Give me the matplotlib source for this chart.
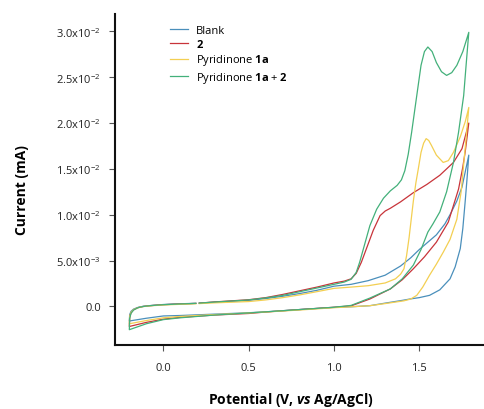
import matplotlib
matplotlib.use("Agg")
import matplotlib.pyplot as plt
import numpy as np

plt.rcParams['font.family'] = ['Open Sans', 'DejaVu Sans']
plt.rcParams['mathtext.fontset'] = 'custom'
plt.rcParams['mathtext.rm'] = 'Open Sans'
plt.rcParams['mathtext.bf'] = 'Open Sans:bold'
plt.rcParams['mathtext.it'] = 'Open Sans:italic'
plt.rcParams['mathtext.bfit'] = 'Open Sans:italic:bold'

# ---- data (potential in V, current in units of 1e-3 mA) ----
labels = ["Blank", r"$\mathbf{2}$", r"Pyridinone $\mathbf{1a}$", r"Pyridinone $\mathbf{1a}$ + $\mathbf{2}$"]
colors = ["#4a8fbb", "#c8343a", "#f3cf52", "#43b07a"]

blank_v = [0.21, 0.3, 0.4, 0.5, 0.6, 0.7, 0.8, 0.9, 1.0, 1.1, 1.2, 1.3, 1.39, 1.45, 1.5, 1.55, 1.6, 1.65, 1.68, 1.72, 1.75, 1.79,
           1.78, 1.77, 1.755, 1.74, 1.71, 1.68, 1.62, 1.56, 1.5, 1.445, 1.4, 1.3, 1.21, 1.1, 1.0, 0.8, 0.6, 0.5, 0.3, 0.1, 0.0, -0.1, -0.2,
           -0.198, -0.19, -0.175, -0.15, -0.12, -0.08, 0.0, 0.1, 0.19]
blank_i = [0.35, 0.45, 0.55, 0.65, 0.85, 1.1, 1.4, 1.75, 2.2, 2.4, 2.8, 3.4, 4.4, 5.3, 6.2, 7.0, 7.8, 9.0, 10.0, 11.5, 13.0, 16.5,
           14.0, 11.7, 8.5, 6.3, 4.3, 3.0, 1.8, 1.2, 0.95, 0.8, 0.65, 0.35, 0.07, -0.05, -0.12, -0.35, -0.6, -0.7, -0.85, -1.0, -1.05, -1.3, -1.6,
           -0.9, -0.55, -0.3, -0.12, 0.0, 0.08, 0.2, 0.28, 0.33]

red_v = [0.21, 0.3, 0.4, 0.5, 0.6, 0.7, 0.8, 0.9, 1.0, 1.06, 1.1, 1.13, 1.16, 1.19, 1.23, 1.27, 1.3, 1.33, 1.39, 1.465, 1.544, 1.62, 1.70, 1.75, 1.79,
         1.77, 1.755, 1.73, 1.70, 1.67, 1.6, 1.53, 1.465, 1.4, 1.33, 1.21, 1.1, 1.0, 0.8, 0.6, 0.5, 0.3, 0.1, 0.0, -0.1, -0.2,
         -0.198, -0.19, -0.175, -0.15, -0.12, -0.08, 0.0, 0.1, 0.19]
red_i = [0.35, 0.48, 0.6, 0.72, 0.95, 1.3, 1.7, 2.1, 2.55, 2.75, 3.0, 3.6, 4.8, 6.3, 8.3, 9.9, 10.4, 10.7, 11.4, 12.4, 13.3, 14.3, 15.7, 17.2, 20.0,
         17.0, 15.2, 12.8, 11.0, 9.2, 7.0, 5.4, 4.1, 2.9, 1.9, 0.8, 0.05, -0.1, -0.35, -0.62, -0.78, -0.95, -1.2, -1.4, -1.75, -2.2,
         -1.2, -0.7, -0.38, -0.15, -0.02, 0.07, 0.18, 0.26, 0.32]

yellow_v = [0.21, 0.3, 0.4, 0.5, 0.6, 0.7, 0.8, 0.9, 1.0, 1.1, 1.2, 1.3, 1.36, 1.39, 1.41, 1.425, 1.44, 1.465, 1.48, 1.494, 1.51, 1.525, 1.54, 1.555, 1.57, 1.6, 1.64, 1.67, 1.70, 1.74, 1.77, 1.79,
            1.775, 1.76, 1.745, 1.72, 1.68, 1.64, 1.6, 1.56, 1.52, 1.485, 1.45, 1.41, 1.3, 1.21, 1.1, 1.0, 0.8, 0.6, 0.5, 0.3, 0.1, 0.0, -0.1, -0.2,
            -0.198, -0.19, -0.175, -0.15, -0.12, -0.08, 0.0, 0.1, 0.19]
yellow_i = [0.3, 0.38, 0.45, 0.52, 0.7, 0.95, 1.25, 1.6, 1.96, 2.1, 2.25, 2.55, 3.0, 3.5, 4.1, 5.5, 7.5, 11.5, 13.5, 15.0, 16.8, 17.8, 18.3, 18.1, 17.6, 16.5, 15.7, 15.9, 16.8, 18.5, 20.2, 21.7,
            18.5, 15.5, 12.5, 9.5, 7.3, 5.9, 4.6, 3.4, 2.1, 1.2, 0.8, 0.6, 0.3, 0.07, -0.05, -0.15, -0.4, -0.62, -0.72, -0.9, -1.1, -1.25, -1.55, -1.9,
            -1.1, -0.65, -0.35, -0.15, -0.03, 0.05, 0.15, 0.22, 0.28]

green_v = [0.21, 0.3, 0.4, 0.5, 0.6, 0.7, 0.8, 0.9, 1.0, 1.06, 1.1, 1.13, 1.15, 1.18, 1.21, 1.25, 1.29, 1.33, 1.37, 1.395, 1.415, 1.435, 1.455, 1.485, 1.51, 1.53, 1.55, 1.575, 1.60, 1.63, 1.66, 1.69, 1.72, 1.755, 1.79,
           1.775, 1.76, 1.73, 1.70, 1.66, 1.62, 1.58, 1.55, 1.51, 1.465, 1.4, 1.33, 1.21, 1.1, 1.0, 0.8, 0.6, 0.5, 0.3, 0.1, 0.0, -0.1, -0.2,
           -0.198, -0.19, -0.175, -0.15, -0.12, -0.08, 0.0, 0.1, 0.19]
green_i = [0.35, 0.47, 0.58, 0.7, 0.92, 1.2, 1.6, 2.0, 2.4, 2.65, 2.95, 3.7, 4.8, 6.8, 8.8, 10.6, 11.8, 12.6, 13.2, 13.8, 14.8, 16.6, 19.0, 23.0, 26.3, 27.8, 28.3, 27.8, 26.6, 25.6, 25.2, 25.5, 26.3, 27.8, 29.9,
           26.5, 23.0, 19.0, 15.7, 12.5, 10.3, 9.0, 8.1, 6.2, 4.5, 3.0, 1.9, 0.9, 0.1, -0.1, -0.35, -0.6, -0.72, -0.95, -1.25, -1.45, -1.9, -2.55,
           -1.3, -0.75, -0.4, -0.15, -0.02, 0.07, 0.18, 0.26, 0.32]

xticks = [0.0, 0.5, 1.0, 1.5]
xtick_labels = ["0.0", "0.5", "1.0", "1.5"]
yticks = [0.0, 5e-3, 1e-2, 1.5e-2, 2e-2, 2.5e-2, 3e-2]
ytick_labels = ["0.0", r"5.0x10$^{-3}$", r"1.0x10$^{-2}$", r"1.5x10$^{-2}$",
                r"2.0x10$^{-2}$", r"2.5x10$^{-2}$", r"3.0x10$^{-2}$"]
unit = 1e-3

fig = plt.figure(figsize=(4.85, 4.10), dpi=100)
ax = fig.add_axes([115/485, 64/410, 1 - 115/485, (346-15)/410])

series = [(blank_v, blank_i), (red_v, red_i), (yellow_v, yellow_i), (green_v, green_i)]
for (v, i), c, lab in zip(series, colors, labels):
    ax.plot(v, np.array(i) * unit, color=c, lw=0.9, label=lab, solid_joinstyle='round')

ax.set_xlim(-0.284, 1.885)
ax.set_ylim(-4.22e-3, 3.19e-2)
ax.set_xticks(xticks)
ax.set_xticklabels(xtick_labels)
ax.set_yticks(yticks)
ax.set_yticklabels(ytick_labels)
ax.tick_params(axis='both', labelsize=8, length=4, width=0.8, color='#555555', labelcolor='#222222')
ax.tick_params(axis='x', pad=8)
ax.tick_params(axis='y', pad=6)
for s in ['top', 'right']:
    ax.spines[s].set_visible(False)
for s in ['left', 'bottom']:
    ax.spines[s].set_linewidth(1.5)
    ax.spines[s].set_color('#111111')

fig.text(22/485, 1 - 190/410, "Current (mA)", rotation=90, ha='center', va='center',
         fontsize=10, fontweight='bold')
fig.text(291/485, 1 - 400/410, r"Potential (V, $\mathbfit{vs}$ Ag/AgCl)", ha='center', va='center',
         fontsize=10, fontweight='bold')

leg = ax.legend(loc='upper left', bbox_to_anchor=(170/485, 1 - 26/410), bbox_transform=fig.transFigure,
                frameon=False, fontsize=8, handlelength=1.6, handletextpad=0.75, labelspacing=0.2,
                borderpad=0, borderaxespad=0)

fig.savefig("out.png", dpi=100)
